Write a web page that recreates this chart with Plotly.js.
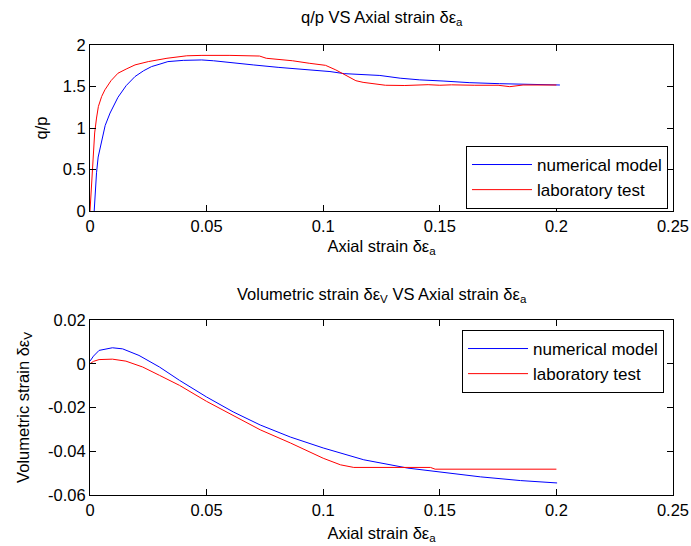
<!DOCTYPE html>
<html>
<head>
<meta charset="utf-8">
<script src="https://cdn.plot.ly/plotly-3.0.1.min.js"></script>
<style>html,body{margin:0;padding:0;background:#fff;}#chart{width:691px;height:546px;}</style>
</head>
<body>
<div id="chart"></div>
<script>
// ---- data ----
const qpNumX = [0.0018, 0.0022, 0.0028, 0.0035, 0.005, 0.0065, 0.0086, 0.012, 0.0155, 0.0193, 0.023, 0.0264, 0.03, 0.0334, 0.04, 0.0479, 0.053, 0.06, 0.07, 0.081, 0.0926, 0.1029, 0.109, 0.117, 0.1243, 0.133, 0.1414, 0.1514, 0.1629, 0.1757, 0.19, 0.2015];
const qpNumY = [0, 0.2, 0.46, 0.65, 0.86, 1.03, 1.18, 1.37, 1.51, 1.62, 1.69, 1.74, 1.77, 1.80, 1.815, 1.82, 1.81, 1.787, 1.76, 1.73, 1.70, 1.68, 1.655, 1.64, 1.633, 1.60, 1.58, 1.566, 1.546, 1.534, 1.526, 1.518];

const qpLabX = [0, 0.0005, 0.001, 0.0015, 0.002, 0.0028, 0.0036, 0.005, 0.0064, 0.009, 0.012, 0.0155, 0.0193, 0.025, 0.033, 0.0415, 0.048, 0.06, 0.0727, 0.0756, 0.0869, 0.094, 0.101, 0.1054, 0.1097, 0.114, 0.1171, 0.1214, 0.1267, 0.135, 0.145, 0.15, 0.155, 0.165, 0.175, 0.18, 0.1857, 0.2];
const qpLabY = [0, 0.25, 0.46, 0.72, 0.94, 1.12, 1.26, 1.38, 1.46, 1.57, 1.66, 1.71, 1.76, 1.80, 1.84, 1.87, 1.875, 1.875, 1.867, 1.84, 1.81, 1.78, 1.755, 1.70, 1.64, 1.57, 1.55, 1.535, 1.515, 1.512, 1.522, 1.515, 1.52, 1.515, 1.515, 1.498, 1.518, 1.518];

const volNumX = [0, 0.0015, 0.0039, 0.0096, 0.014, 0.021, 0.0298, 0.0384, 0.05, 0.0614, 0.073, 0.0859, 0.1, 0.1096, 0.1174, 0.1363, 0.15, 0.1674, 0.1846, 0.2003];
const volNumY = [0.0012, 0.0035, 0.0061, 0.0073, 0.0068, 0.0038, -0.0015, -0.0076, -0.0152, -0.022, -0.028, -0.0335, -0.0385, -0.0416, -0.0439, -0.0477, -0.0496, -0.0517, -0.0534, -0.0545];

const volLabX = [0, 0.0015, 0.0039, 0.0096, 0.0154, 0.0226, 0.0298, 0.0384, 0.05, 0.0614, 0.073, 0.0859, 0.0903, 0.1, 0.1074, 0.1131, 0.146, 0.148, 0.2];
const volLabY = [0, 0.0011, 0.0019, 0.0021, 0.0012, -0.0015, -0.0053, -0.0099, -0.0172, -0.0238, -0.0302, -0.0362, -0.0385, -0.0432, -0.0462, -0.0474, -0.0474, -0.0482, -0.0482];

const xTickVals = [0, 0.05, 0.1, 0.15, 0.2, 0.25];
const xTickText = ['0', '0.05', '0.1', '0.15', '0.2', '0.25'];
const qpTickVals = [0, 0.5, 1, 1.5, 2];
const qpTickText = ['0', '0.5', '1', '1.5', '2'];
const volTickVals = [-0.06, -0.04, -0.02, 0, 0.02];
const volTickText = ['-0.06', '-0.04', '-0.02', '0', '0.02'];

const seriesNames = ['numerical model', 'laboratory test'];
const topTitle = 'q/p VS Axial strain δε<sub>a</sub>';
const botTitle = 'Volumetric strain δε<sub>V</sub> VS Axial strain δε<sub>a</sub>';
const xTitle = 'Axial strain δε<sub>a</sub>';
const yTitleTop = 'q/p';
const yTitleBot = 'Volumetric strain δε<sub>V</sub>';

// ---- styling ----
const FONT = 'Arial, "Liberation Sans", sans-serif';
const FS = 16.5;
const LFS = 17;
const BLUE = '#0000ff', RED = '#ff0000';

const traces = [
  {x: qpNumX, y: qpNumY, xaxis: 'x', yaxis: 'y', name: seriesNames[0], mode: 'lines', line: {color: BLUE, width: 1}, legend: 'legend'},
  {x: qpLabX, y: qpLabY, xaxis: 'x', yaxis: 'y', name: seriesNames[1], mode: 'lines', line: {color: RED, width: 1}, legend: 'legend'},
  {x: volNumX, y: volNumY, xaxis: 'x2', yaxis: 'y2', name: seriesNames[0], mode: 'lines', line: {color: BLUE, width: 1}, legend: 'legend2'},
  {x: volLabX, y: volLabY, xaxis: 'x2', yaxis: 'y2', name: seriesNames[1], mode: 'lines', line: {color: RED, width: 1}, legend: 'legend2'}
];

function axisBase() {
  return {
    showline: true, linecolor: '#000', linewidth: 1, mirror: 'allticks',
    ticks: 'inside', ticklen: 6, tickcolor: '#000', tickwidth: 1,
    showgrid: false, zeroline: false,
    tickfont: {family: FONT, size: FS, color: '#000'}
  };
}

function legendBox(x, y) {
  return {
    x: x, y: y, xanchor: 'right', yanchor: 'top',
    bgcolor: '#fff', bordercolor: '#000', borderwidth: 1,
    font: {family: FONT, size: LFS, color: '#000'}, itemwidth: 60, tracegroupgap: 0
  };
}

const layout = {
  width: 691, height: 546,
  margin: {l: 90, r: 18, t: 45, b: 51},
  paper_bgcolor: '#fff', plot_bgcolor: '#fff',
  font: {family: FONT, size: FS, color: '#000'},
  xaxis: Object.assign(axisBase(), {
    domain: [0, 1], anchor: 'y', range: [0, 0.25],
    tickmode: 'array', tickvals: xTickVals, ticktext: xTickText,
    title: {text: xTitle, standoff: 6, font: {family: FONT, size: FS, color: '#000'}}
  }),
  yaxis: Object.assign(axisBase(), {
    domain: [0.6311, 1], anchor: 'x', range: [0, 2],
    tickmode: 'array', tickvals: qpTickVals, ticktext: qpTickText,
    title: {text: yTitleTop, standoff: 10, font: {family: FONT, size: FS, color: '#000'}}
  }),
  xaxis2: Object.assign(axisBase(), {
    domain: [0, 1], anchor: 'y2', range: [0, 0.25],
    tickmode: 'array', tickvals: xTickVals, ticktext: xTickText,
    title: {text: xTitle, standoff: 9, font: {family: FONT, size: FS, color: '#000'}}
  }),
  yaxis2: Object.assign(axisBase(), {
    domain: [0, 0.3889], anchor: 'x2', range: [-0.06, 0.02],
    tickmode: 'array', tickvals: volTickVals, ticktext: volTickText,
    title: {text: yTitleBot, standoff: 14, font: {family: FONT, size: FS, color: '#000'}}
  }),
  legend: legendBox(0.9914, 0.7756),
  legend2: legendBox(0.9846, 0.3667),
  annotations: [
    {text: topTitle, xref: 'paper', yref: 'paper', x: 0.5, y: 1.06, xanchor: 'center', yanchor: 'middle', showarrow: false, font: {family: FONT, size: FS, color: '#000'}},
    {text: botTitle, xref: 'paper', yref: 'paper', x: 0.5, y: 0.444, xanchor: 'center', yanchor: 'middle', showarrow: false, font: {family: FONT, size: FS, color: '#000'}}
  ],
  showlegend: true
};

Plotly.newPlot('chart', traces, layout, {staticPlot: true, displayModeBar: false});
</script>
</body>
</html>
